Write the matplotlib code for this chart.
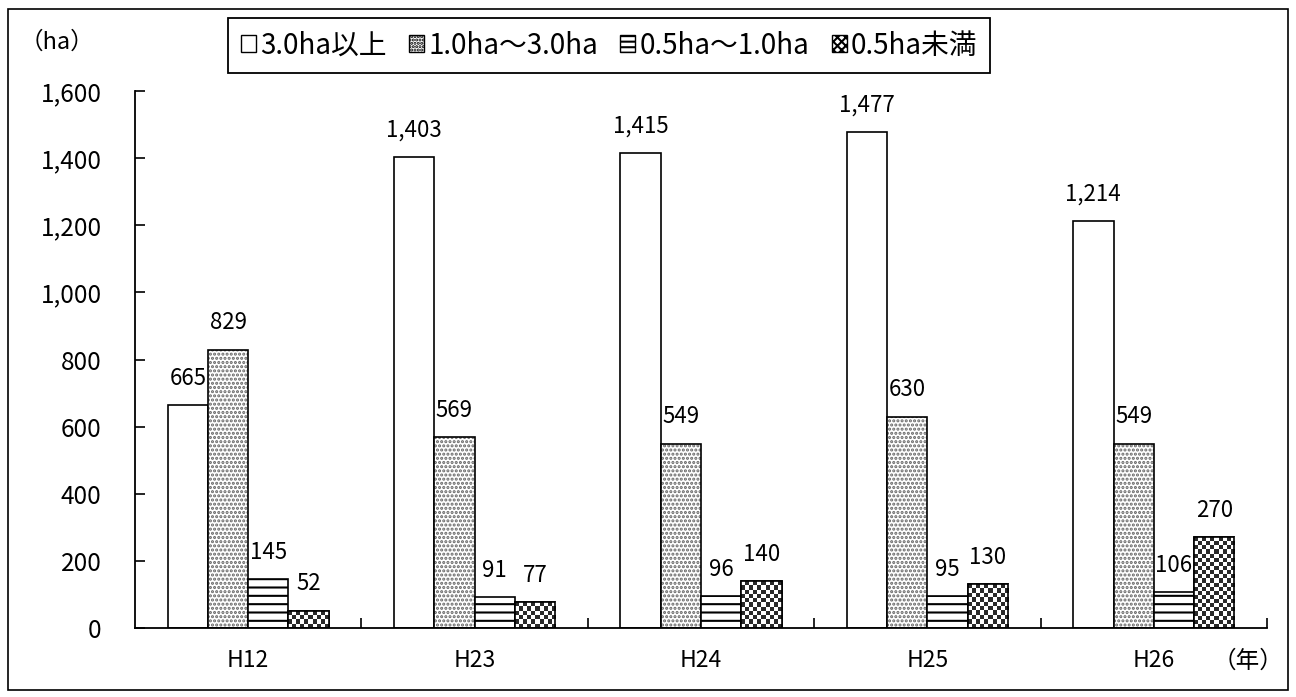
import numpy as np
import matplotlib
matplotlib.use("Agg")
import matplotlib.pyplot as plt
from matplotlib.patches import Rectangle, Patch

plt.rcParams['font.family'] = ['Noto Sans CJK JP', 'DejaVu Sans']
plt.rcParams['hatch.linewidth'] = 1.5

categories = ['H12', 'H23', 'H24', 'H25', 'H26']
series_names = ['3.0ha以上', '1.0ha～3.0ha', '0.5ha～1.0ha', '0.5ha未満']
s_over3 = [665, 1403, 1415, 1477, 1214]
s_1to3 = [829, 569, 549, 630, 549]
s_05to1 = [145, 91, 96, 95, 106]
s_under05 = [52, 77, 140, 130, 270]
yticks = [0, 200, 400, 600, 800, 1000, 1200, 1400, 1600]

W, H = 1296, 697
fig = plt.figure(figsize=(W / 100, H / 100), dpi=100)
ax = fig.add_axes([135 / W, 1 - 628 / H, (1267 - 135) / W, (628 - 91) / H])
ax.set_xlim(-0.5, len(categories) - 0.5)
ax.set_ylim(0, 1600)

x = np.arange(len(categories))
bw = 0.178
series = [s_over3, s_1to3, s_05to1, s_under05]
hatches = [None, '....', '--', None]
offsets = [-1.5, -0.5, 0.5, 1.5]
containers = []
for vals, h, off in zip(series, hatches, offsets):
    bc = ax.bar(x + off * bw, vals, width=bw, color='white', edgecolor='black',
                linewidth=1.2, hatch=h, zorder=2)
    containers.append(bc)
    for xi, v in zip(x + off * bw, vals):
        ax.annotate(f'{v:,}', (xi, v), xytext=(0, 11), textcoords='offset points',
                    ha='center', va='bottom', fontsize=16)

for b in containers[1]:
    b._hatch_color = (0.4, 0.4, 0.4, 1.0)

# checker pattern for <0.5ha bars
fig.canvas.draw()
sq = 4.2
for b in containers[3]:
    x0, y0 = b.get_x(), b.get_y()
    w, h = b.get_width(), b.get_height()
    p0 = ax.transData.transform((x0, y0))
    p1 = ax.transData.transform((x0 + w, y0 + h))
    ncol = max(1, int(round((p1[0] - p0[0]) / sq)))
    nrow = max(1, int(round((p1[1] - p0[1]) / sq)))
    chk = np.indices((nrow, ncol)).sum(axis=0) % 2
    im = ax.imshow(chk, cmap='gray_r', vmin=0, vmax=1.2, extent=(x0, x0 + w, y0, y0 + h),
                   aspect='auto', interpolation='nearest', zorder=2.5, origin='lower')
    im.set_clip_path(b)
ax.bar(x + offsets[3] * bw, s_under05, width=bw, color='none', edgecolor='black',
       linewidth=1.2, zorder=3)
ax.set_xlim(-0.5, len(categories) - 0.5)
ax.set_ylim(0, 1600)

ax.set_yticks(yticks)
ax.set_yticklabels([f'{t:,}' for t in yticks], fontsize=17.5)
ax.tick_params(axis='y', direction='in', length=7, width=1.2, pad=24)
ax.set_xticks(x)
ax.set_xticklabels(categories, fontsize=16.5)
ax.tick_params(axis='x', which='major', length=0, pad=15)
ax.set_xticks(np.arange(len(categories)) + 0.5, minor=True)
ax.tick_params(axis='x', which='minor', direction='in', length=7, width=1.2)
for s in ['top', 'right']:
    ax.spines[s].set_visible(False)
for s in ['left', 'bottom']:
    ax.spines[s].set_linewidth(1.3)

handles = [Patch(facecolor='white', edgecolor='black', hatch=h, linewidth=1.0)
           for h in [None, '.....', '---', 'xxxx']]
leg = fig.legend(handles, series_names, loc='upper left', bbox_to_anchor=(228 / W, 1 - 18 / H),
                 ncol=4, fontsize=20, frameon=True, fancybox=False, edgecolor='black',
                 framealpha=1, handlelength=0.55, handleheight=0.55, handletextpad=0.15,
                 columnspacing=0.8, borderpad=0.45, borderaxespad=0)
leg.get_frame().set_linewidth(1.3)

fig.text(57 / W, 1 - 42 / H, '（ha）', fontsize=17, ha='center', va='center')
fig.text(1248 / W, 1 - 661 / H, '（年）', fontsize=17, ha='center', va='center')

fig.patches.append(Rectangle((8 / W, 1 - 690 / H), (1288 - 8) / W, (690 - 9) / H,
                             transform=fig.transFigure, fill=False, edgecolor='black',
                             linewidth=1.2))

fig.savefig('out.png', dpi=100)
